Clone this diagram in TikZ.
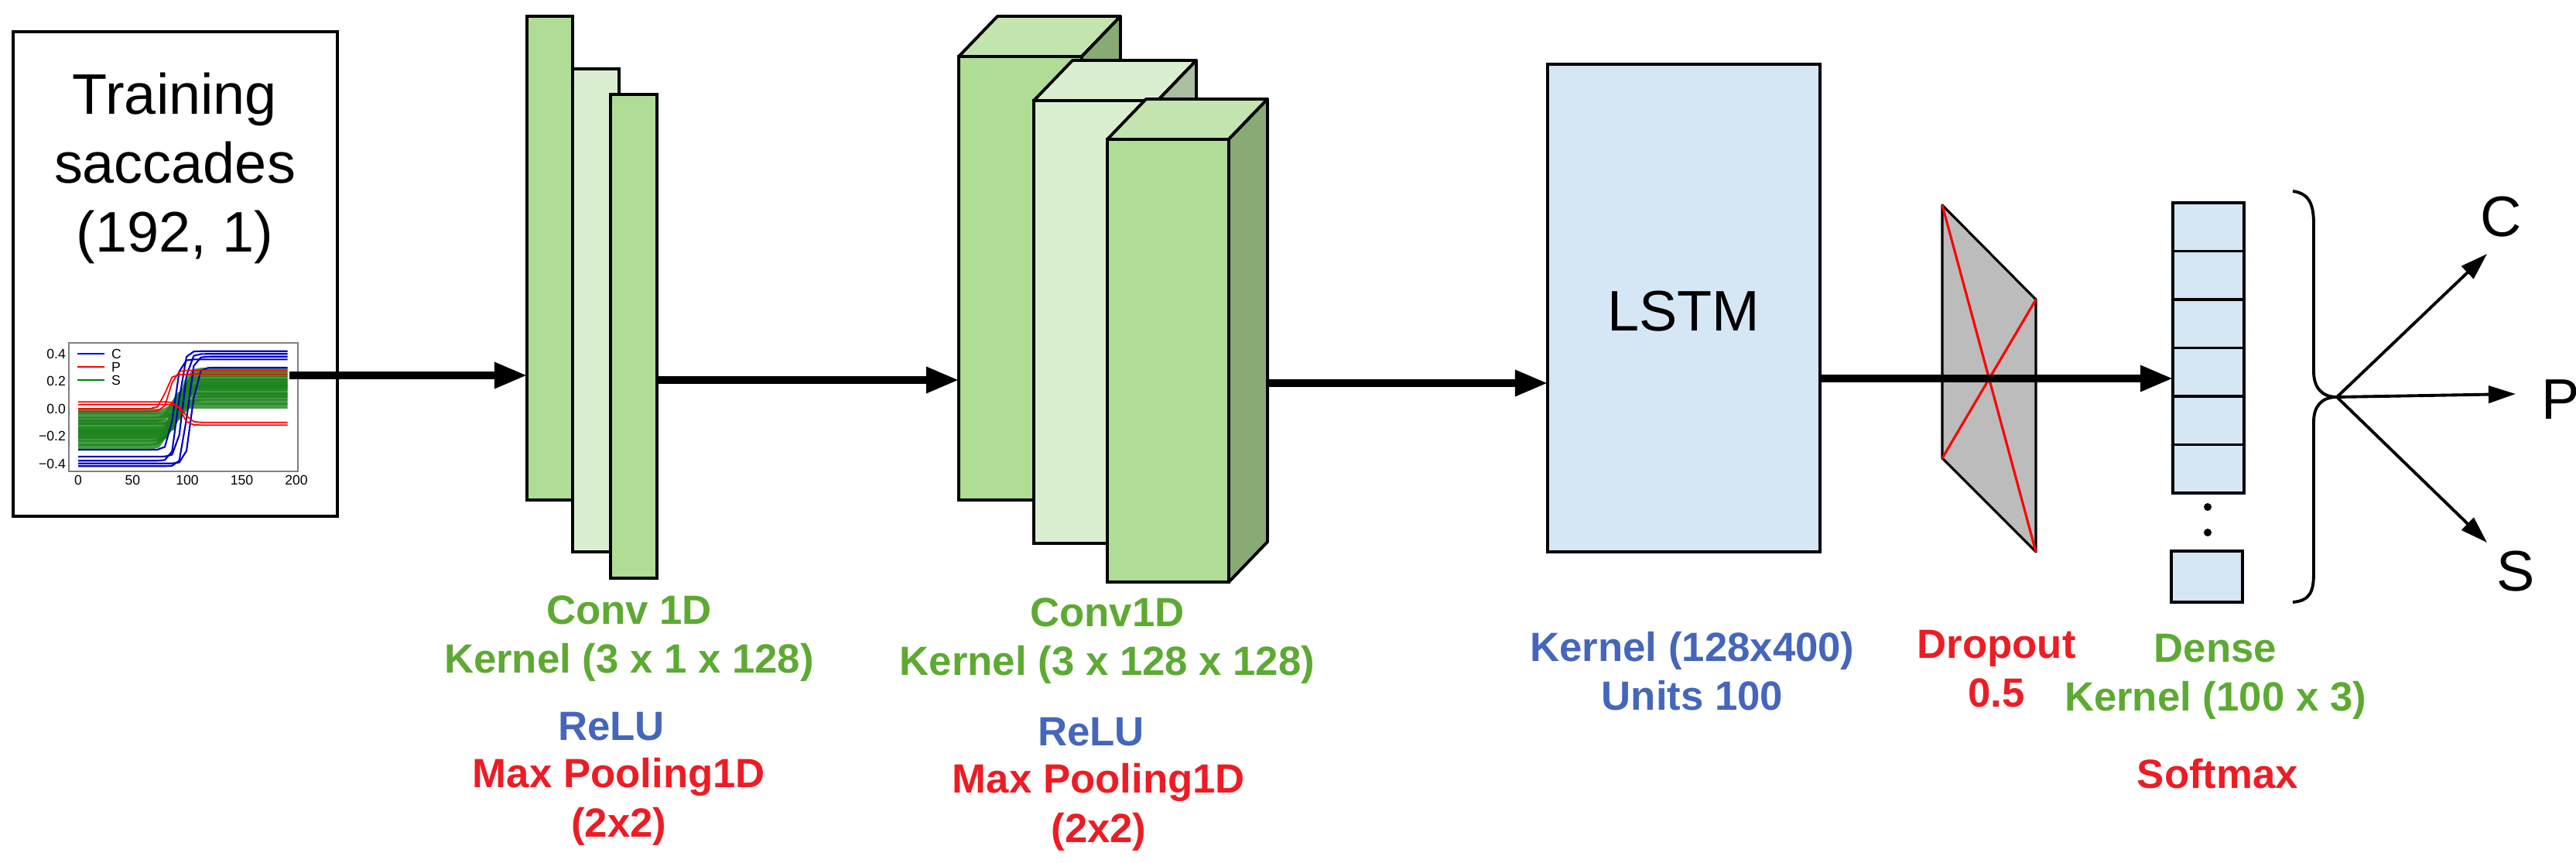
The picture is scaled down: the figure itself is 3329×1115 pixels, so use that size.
\documentclass[tikz,border=0pt]{standalone}
\usepackage{fontspec}
\setmainfont{Liberation Sans}
\usetikzlibrary{arrows.meta,positioning,calc}

\definecolor{convgreen}{HTML}{B0DD96}
\definecolor{convlight}{HTML}{DAEFD0}
\definecolor{convtop}{HTML}{C2E4AE}
\definecolor{convside}{HTML}{88AA74}
\definecolor{lightside}{HTML}{AABFA0}
\definecolor{lstmblue}{HTML}{D5E6F5}
\definecolor{dropgray}{HTML}{BDBCBC}
\definecolor{lblgreen}{HTML}{5DAA32}
\definecolor{lblblue}{HTML}{4466BB}
\definecolor{lblred}{HTML}{ED1C24}

\tikzset{
  layer/.style={draw=black, line width=1.1pt, rectangle, inner sep=0pt, outer sep=0pt, anchor=north west},
  blockedge/.style={draw=black, line width=1.1pt, line join=round},
  flowarrow/.style={line width=2.6pt, -{Triangle[length=0.42cm,width=0.32cm]}},
  outarrow/.style={line width=1.1pt, -{Triangle[length=0.35cm,width=0.22cm]}},
  lbl/.style={font=\fontsize{15}{18}\selectfont\bfseries, align=center},
  bigtxt/.style={font=\fontsize{21}{25.3}\selectfont, align=center},
  ticklbl/.style={font=\fontsize{5}{6}\selectfont, inner sep=1pt}
}

% 3D block: name, x, y, width, height, front, top, side
\newcommand{\convblock}[8]{%
  \node[layer, fill=#6, minimum width=#4*0.01cm, minimum height=#5*0.01cm] (#1) at (#2,#3) {};
  \draw[blockedge, fill=#7] (#1.north west) -- ++(50,-52) -- ++(#4,0) -- (#1.north east) -- cycle;
  \draw[blockedge, fill=#8] (#1.north east) -- ++(50,-52) -- ++(0,#5) -- (#1.south east) -- cycle;
}

\begin{document}
\begin{tikzpicture}[x=0.01cm,y=-0.01cm,
  declare function={sg(\t)=(1+tanh(max(-4,min(4,\t))))/2;}]
\useasboundingbox (0,0) rectangle (3329,1115);

% input
\node[layer, minimum width=4.19cm, minimum height=6.26cm] (input) at (17,41) {};
\node[bigtxt] (title) at (226,217) {Training\\saccades\\(192, 1)};
\node[layer, draw=gray, line width=0.4pt, minimum width=2.96cm, minimum height=1.66cm] (plot) at (89,443) {};
\begin{scope}
  \clip (plot.north west) rectangle (plot.south east);
  \foreach \lo/\hi/\c in {-0.25/0.05/84,-0.22/0.10/88,-0.20/0.15/90,-0.18/0.20/92,-0.15/0.22/94,-0.12/0.25/96,-0.10/0.18/98,-0.08/0.12/86,-0.05/0.08/100,-0.28/0.02/82,-0.16/0.28/95,-0.02/0.16/91}
    \draw[green!45!black!90, line width=2pt, opacity=0.8] plot[domain=0:192, samples=30] ({101+1.41*\x},{528-177*(\lo+(\hi-\lo)*sg((\x-\c)/6))});
  \foreach \lo/\hi/\c in {-0.38/0.42/92,-0.35/0.40/96,-0.42/0.38/100,-0.30/0.36/88,-0.40/0.30/104}
    \draw[blue!75!black, line width=0.6pt] plot[domain=0:192, samples=30] ({101+1.41*\x},{528-177*(\lo+(\hi-\lo)*sg((\x-\c)/5))});
  \foreach \lo/\hi/\c in {0.00/0.25/80,0.05/-0.12/95,-0.02/0.28/84,0.03/-0.10/98}
    \draw[red, line width=0.5pt] plot[domain=0:192, samples=30] ({101+1.41*\x},{528-177*(\lo+(\hi-\lo)*sg((\x-\c)/5))});
\end{scope}
\foreach \v/\py in {0.4/457,0.2/492,0.0/528,−0.2/563,−0.4/599}
  \node[ticklbl, anchor=east] (yt\py) at (89,\py) {\v};
\foreach \v in {0,50,100,150,200}
  \node[ticklbl, anchor=north] (xt\v) at ({101+1.41*\v},610) {\v};
\foreach \col/\name/\py in {blue/C/457,red/P/474,green!50!black/S/491} {
  \coordinate (lg\name) at (100,\py);
  \draw[\col, line width=0.6pt] (lg\name) -- ++(35,0);
  \node[ticklbl, anchor=west] (lt\name) at (140,\py) {\name};
}

% conv 1D
\node[layer, fill=convgreen, minimum width=0.59cm, minimum height=6.25cm] (c1a) at (681,21) {};
\node[layer, fill=convlight, minimum width=0.60cm, minimum height=6.24cm] (c1b) at (740,89) {};
\node[layer, fill=convgreen, minimum width=0.60cm, minimum height=6.25cm] (c1c) at (789,122) {};

% conv1D blocks
\convblock{c2a}{1239}{73}{159}{573}{convgreen}{convtop}{convside}
\convblock{c2b}{1336}{130}{160}{572}{convlight}{convlight}{lightside}
\convblock{c2c}{1431}{180}{157}{572}{convgreen}{convtop}{convside}

% lstm
\node[layer, fill=lstmblue, minimum width=3.52cm, minimum height=6.30cm] (lstm) at (2000,83) {};
\node[bigtxt] (lstmtxt) at (2176,402) {LSTM};

% dropout
\coordinate (d1) at (2510,265);
\coordinate (d2) at (2631,387);
\coordinate (d3) at (2631,713);
\coordinate (d4) at (2510,592);
\draw[blockedge, line width=0.9pt, fill=dropgray] (d1) -- (d2) -- (d3) -- (d4) -- cycle;
\draw[red, line width=0.9pt] (d1) -- (d3) (d2) -- (d4);

% dense
\foreach \i in {0,...,5}
  \node[layer, fill=lstmblue, minimum width=0.92cm, minimum height=0.625cm] (cell\i) at (2808,{262+62.5*\i}) {};
\node[layer, fill=lstmblue, minimum width=0.92cm, minimum height=0.66cm] (cell6) at (2806,712) {};
\fill (2853,655) circle (5) (2853,688) circle (5);

% arrows
\coordinate (a1) at (374,485);
\coordinate (a2) at (849,491);
\coordinate (a3) at (1640,495);
\coordinate (a4) at (2352,489);
\draw[flowarrow] (a1) -- (a1 -| c1a.west);
\draw[flowarrow] (a2) -- (a2 -| c2a.west);
\draw[flowarrow] (a3) -- (a3 -| lstm.west);
\draw[flowarrow] (a4) -- (a4 -| cell0.west);

% brace and outputs
\coordinate (tip) at (3020,513);
\draw[line width=1.1pt] (2963,247) .. controls (2985,250) and (2990,265) .. (2990,290) -- (2990,480)
  .. controls (2990,500) and (3000,513) .. (tip) .. controls (3000,513) and (2990,525) .. (2990,545)
  -- (2990,740) .. controls (2990,765) and (2985,776) .. (2963,778);
\node[bigtxt] (outc) at (3232,280) {C};
\node[bigtxt] (outp) at (3309,516) {P};
\node[bigtxt] (outs) at (3251,738) {S};
\coordinate (endc) at (3214,328);
\coordinate (endp) at (3251,509);
\coordinate (ends) at (3214,701);
\draw[outarrow] (tip) -- (endc);
\draw[outarrow] (tip) -- (endp);
\draw[outarrow] (tip) -- (ends);

% labels
\node[lbl, text=lblgreen] (l1g) at (813,825) {Conv 1D\\Kernel (3 x 1 x 128)};
\node[lbl, text=lblblue] (l1b) at (790,939) {ReLU};
\node[lbl, text=lblred] (l1r) at (800,1036) {Max Pooling1D\\(2x2)};
\node[lbl, text=lblgreen] (l2g) at (1431,828) {Conv1D\\Kernel (3 x 128 x 128)};
\node[lbl, text=lblblue] (l2b) at (1410,946) {ReLU};
\node[lbl, text=lblred] (l2r) at (1420,1043) {Max Pooling1D\\(2x2)};
\node[lbl, text=lblblue] (l3b) at (2187,867) {Kernel (128x400)\\Units 100};
\node[lbl, text=lblred] (l4r) at (2580,864) {Dropout\\0.5};
\node[lbl, text=lblgreen] (l5g) at (2863,874) {Dense\\Kernel (100 x 3)};
\node[lbl, text=lblred] (l5r) at (2866,1000) {Softmax};
\end{tikzpicture}
\end{document}
